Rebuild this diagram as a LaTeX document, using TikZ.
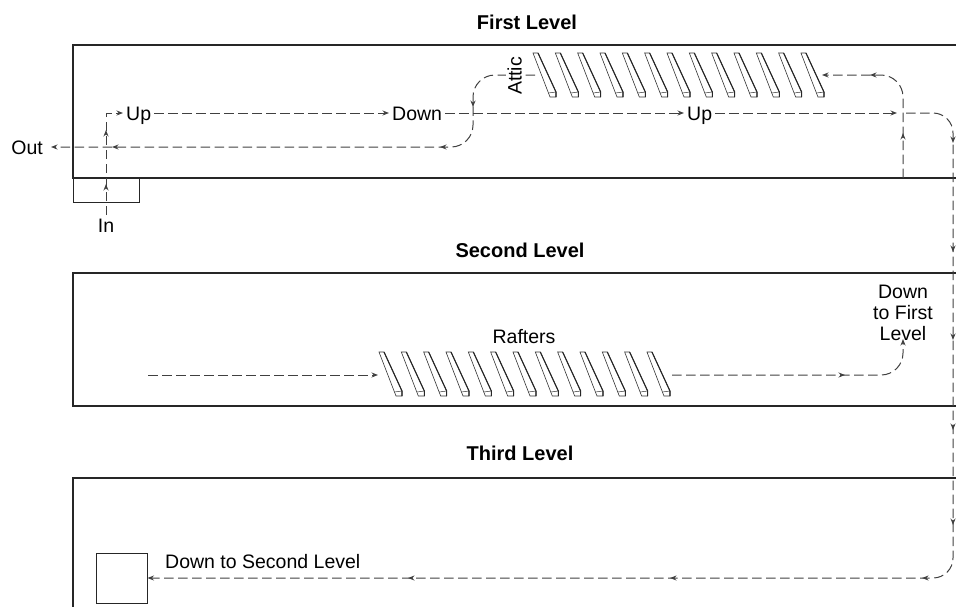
\documentclass[tikz,border=0pt]{standalone}
\usepackage{fontspec}
\setmainfont{Liberation Sans}
\usetikzlibrary{arrows.meta,decorations.markings}
\tikzset{
  >={Stealth[length=6.5pt,width=5pt]},
  box/.style={draw=black!85, line width=1.4pt},
  thinbox/.style={draw=black!85, line width=1pt},
  flow/.style={draw=black!75, line width=1pt, dash pattern=on 9.5pt off 4.5pt},
  am/.style={postaction={decorate,decoration={markings,mark=at position #1 with {\arrow{>}}}}},
  lbl/.style={font=\fontsize{19.5}{21}\selectfont, inner sep=3pt},
  lab/.style={lbl, text height=14pt, text depth=0pt},
  ttl/.style={font=\fontsize{20}{22}\selectfont\bfseries, inner sep=0pt},
  rafter/.pic={
    \draw[line width=0.6pt, draw=black!80, fill=white] (0,0) -- (17,44) -- (23,44) -- (23,39) -- (5,0) -- cycle;
    \draw[line width=1.1pt, draw=black!85] (5,0) -- (23,39) -- (23,44);
    \draw[line width=0.5pt, draw=black!80] (15.5,40) -- (23,39);
  }
}
\begin{document}
\begin{tikzpicture}[x=1pt,y=-1pt]
\useasboundingbox (0,0) rectangle (956,606);
\clip (0,0) rectangle (956,606);

% level boxes
\draw[box] (960,45) -- (73,45) -- (73,178) -- (960,178);
\draw[thinbox] (73,178) rectangle (139,202);
\draw[box] (960,273) -- (73,273) -- (73,406) -- (960,406);
\draw[box] (960,478) -- (73,478) -- (73,620);

% titles
\node[ttl] (t1) at (527,22) {First Level};
\node[ttl] (t2) at (520,250) {Second Level};
\node[ttl] (t3) at (520,453) {Third Level};

% rafters
\foreach \i in {0,...,12} \pic at ({533+22.33*\i},53) {rafter};
\foreach \i in {0,...,12} \pic at ({379+22.33*\i},352) {rafter};

% labels
\node[lab, anchor=north] (in) at (106,215) {In};
\node[lab, anchor=west] (up1) at (123,113) {Up};
\node[lab, anchor=west] (down1) at (389,113) {Down};
\node[lab, anchor=west] (up2) at (684,113) {Up};
\node[lab, anchor=east] (out) at (46,147) {Out};
\node[lab] (raft) at (524,336) {Rafters};
\node[lbl, align=center, anchor=north, inner sep=0pt] (dtf) at (903,285) {Down\\to First\\Level};
\node[lab, anchor=west] (dsl) at (162,561.5) {Down to Second Level};
\node[thinbox, minimum width=51pt, minimum height=50pt, inner sep=0pt] (sq) at (121.5,578) {};

% free ends
\coordinate (j1) at (897,113);
\coordinate (j2) at (906,113);
\coordinate (c3) at (953,578);
\coordinate (b1) at (903,178);
\coordinate (a1) at (822,75);
\coordinate (a0) at (535,75);
\coordinate (s1) at (473,147);
\coordinate (s2a) at (148,375);
\coordinate (s2b) at (378,375);
\coordinate (s2c) at (672,375);

% first level flow
\draw[flow,->,am=31pt,am=85pt] (in.north) -- (in.north |- up1.west) -- (up1.west);
\draw[flow,->] (up1.east) -- (down1.west);
\draw[flow,->] (down1.east) -- (up2.west);
\draw[flow,->] (up2.east) -- (j1);
\draw[flow,->,rounded corners=22pt,am=45pt,am=126.6pt] (b1) |- (a1);
\draw[flow,->,rounded corners=22pt,shorten >=5pt,am=84.6pt,am=148.1pt,am=476.1pt] (a0) -| (s1) -- (out.east);

% long descent down the right side
\draw[flow,->,rounded corners=20pt,am=68.4pt,am=177.4pt,am=265.4pt,am=355.4pt,am=450.4pt,am=525.8pt,am=777.8pt,am=1039.8pt] (j2) -| (c3) -- (sq.east);

% second level flow
\draw[flow,->] (s2a) -- (s2b);
\draw[flow,->,rounded corners=22pt,shorten >=-2pt,am=173pt] (s2c) -| (dtf.south);

% attic label on top of the return path
\node[lab, rotate=90, fill=white, inner sep=1.5pt] (attic) at (514.5,76) {Attic};
\end{tikzpicture}
\end{document}
